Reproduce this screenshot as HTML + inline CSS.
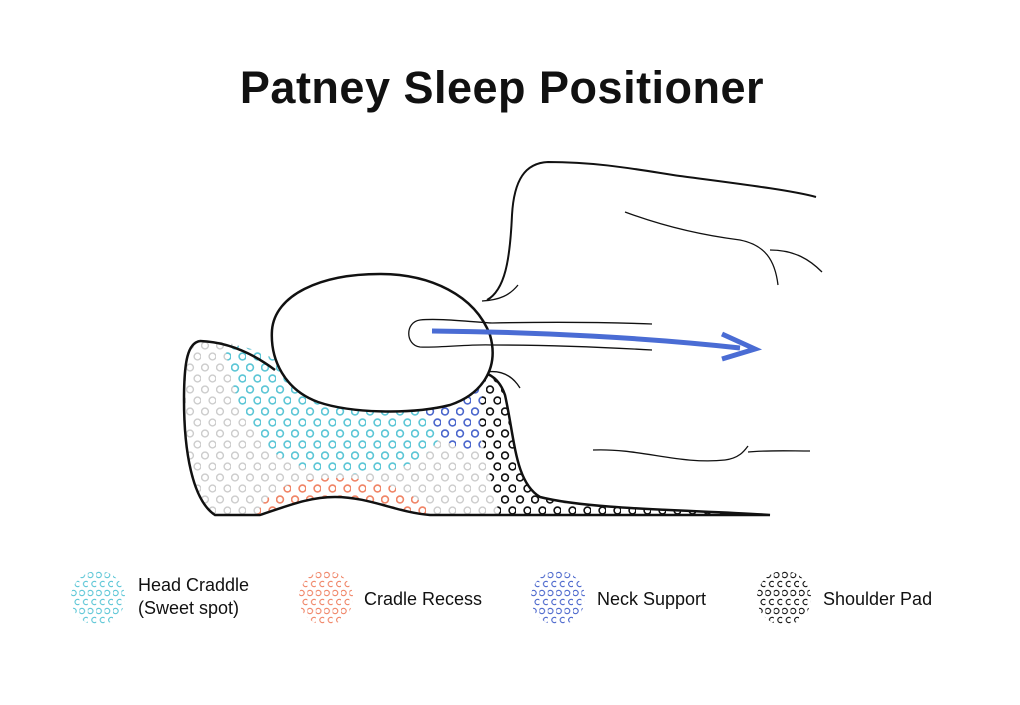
<!DOCTYPE html>
<html><head><style>
html,body{margin:0;padding:0;background:#fff;}
body{width:1020px;height:700px;overflow:hidden;font-family:"Liberation Sans",sans-serif;}
</style></head><body>
<svg width="1020" height="700" viewBox="0 0 1020 700" xmlns="http://www.w3.org/2000/svg">
<defs>
<pattern id="pg" width="15" height="22" patternUnits="userSpaceOnUse" x="186" y="340">
<circle cx="4" cy="5.5" r="3.4" fill="none" stroke="#cccccc" stroke-width="1.4"/>
<circle cx="11.5" cy="16.5" r="3.4" fill="none" stroke="#cccccc" stroke-width="1.4"/>
</pattern>
<pattern id="pc" width="15" height="22" patternUnits="userSpaceOnUse" x="186" y="340">
<rect width="15" height="22" fill="#fff"/>
<circle cx="4" cy="5.5" r="3.4" fill="none" stroke="#5cc6d6" stroke-width="1.6"/>
<circle cx="11.5" cy="16.5" r="3.4" fill="none" stroke="#5cc6d6" stroke-width="1.6"/>
</pattern>
<pattern id="po" width="15" height="22" patternUnits="userSpaceOnUse" x="186" y="340">
<rect width="15" height="22" fill="#fff"/>
<circle cx="4" cy="5.5" r="3.4" fill="none" stroke="#f08466" stroke-width="1.6"/>
<circle cx="11.5" cy="16.5" r="3.4" fill="none" stroke="#f08466" stroke-width="1.6"/>
</pattern>
<pattern id="pb" width="15" height="22" patternUnits="userSpaceOnUse" x="186" y="340">
<rect width="15" height="22" fill="#fff"/>
<circle cx="4" cy="5.5" r="3.4" fill="none" stroke="#4a66cc" stroke-width="1.6"/>
<circle cx="11.5" cy="16.5" r="3.4" fill="none" stroke="#4a66cc" stroke-width="1.6"/>
</pattern>
<pattern id="pk" width="15" height="22" patternUnits="userSpaceOnUse" x="186" y="340">
<rect width="15" height="22" fill="#fff"/>
<circle cx="4" cy="5.5" r="3.4" fill="none" stroke="#111" stroke-width="1.6"/>
<circle cx="11.5" cy="16.5" r="3.4" fill="none" stroke="#111" stroke-width="1.6"/>
</pattern>
<pattern id="lc" width="8.4" height="18" patternUnits="userSpaceOnUse" x="71" y="571"><circle cx="2.5" cy="4" r="2.7" fill="none" stroke="#5cc6d6" stroke-width="1.1"/><circle cx="6.7" cy="13" r="2.7" fill="none" stroke="#5cc6d6" stroke-width="1.1"/></pattern>
<pattern id="lo" width="8.4" height="18" patternUnits="userSpaceOnUse" x="299" y="571"><circle cx="2.5" cy="4" r="2.7" fill="none" stroke="#f08466" stroke-width="1.1"/><circle cx="6.7" cy="13" r="2.7" fill="none" stroke="#f08466" stroke-width="1.1"/></pattern>
<pattern id="lb" width="8.4" height="18" patternUnits="userSpaceOnUse" x="531" y="571"><circle cx="2.5" cy="4" r="2.7" fill="none" stroke="#4a66cc" stroke-width="1.1"/><circle cx="6.7" cy="13" r="2.7" fill="none" stroke="#4a66cc" stroke-width="1.1"/></pattern>
<pattern id="lk" width="8.4" height="18" patternUnits="userSpaceOnUse" x="757" y="571"><circle cx="2.5" cy="4" r="2.7" fill="none" stroke="#111" stroke-width="1.1"/><circle cx="6.7" cy="13" r="2.7" fill="none" stroke="#111" stroke-width="1.1"/></pattern>
<clipPath id="pillow">
<path d="M200,341 C188,343 184,360 184,400 C184,450 192,500 215,515 L260,515 C290,505 310,497 335,497 C370,497 395,512 430,515 L770,515 C700,510 590,510 540,497 C515,482 515,440 505,395 C500,380 490,373 480,372 L300,372 C270,355 240,340 200,341 Z"/>
</clipPath>
</defs>

<text x="502" y="103" text-anchor="middle" font-size="45" font-weight="bold" fill="#111" font-family="Liberation Sans, sans-serif" letter-spacing="0.5">Patney Sleep Positioner</text>

<g clip-path="url(#pillow)">
<rect x="180" y="330" width="600" height="190" fill="url(#pg)"/>
<path d="M225,345 C270,345 300,380 330,400 L440,395 C455,420 440,460 390,470 C340,480 290,470 265,445 C240,420 230,380 225,345 Z" fill="url(#pc)"/>
<path d="M255,520 C265,485 300,478 340,478 C380,478 415,490 440,520 Z" fill="url(#po)"/>
<path d="M420,400 C440,385 470,375 490,372 L480,450 C460,452 440,440 430,425 Z" fill="url(#pb)"/>
<path d="M488,370 L520,370 L560,505 L780,505 L780,520 L500,520 C495,490 478,440 480,410 C482,390 486,380 488,370 Z" fill="url(#pk)"/>
</g>
<path d="M200,341 C188,343 184,360 184,400 C184,450 192,500 215,515 L260,515 C290,505 310,497 335,497 C370,497 395,512 430,515 L770,515 C700,510 590,510 540,497 C515,482 515,440 505,395 C500,380 490,373 480,372" fill="none" stroke="#111" stroke-width="2.5"/>
<path d="M200,341 C230,342 255,355 275,370" fill="none" stroke="#111" stroke-width="2.5"/>

<path d="M487,300 C505,290 510,260 512,215 C514,180 525,163 548,162 C600,162 640,170 680,176 C740,184 790,190 816,197" fill="none" stroke="#111" stroke-width="2"/>
<path d="M482,301 C500,300 510,295 518,285" fill="none" stroke="#111" stroke-width="1.3"/>
<path d="M486,372 C500,370 512,375 520,388" fill="none" stroke="#111" stroke-width="1.3"/>
<path d="M625,212 C660,225 700,235 740,240 C765,245 775,260 778,285" fill="none" stroke="#111" stroke-width="1.3"/>
<path d="M770,250 C795,250 810,260 822,272" fill="none" stroke="#111" stroke-width="1.3"/>
<path d="M593,450 C640,448 680,465 725,460 C740,458 745,450 748,446 M748,452 C770,450 790,451 810,451" fill="none" stroke="#111" stroke-width="1.3"/>

<path d="M380,274 C430,274 475,295 490,335 C500,370 480,395 450,405 C410,415 350,413 318,402 C285,390 270,360 272,330 C275,295 320,274 380,274 Z" fill="#fff" stroke="#111" stroke-width="2.5"/>
<path d="M492,323 C540,322 600,322 652,324 M492,345 C550,345 600,347 652,350 M492,323 C470,322 440,318 420,320 C405,322 405,345 420,347 C440,348 470,344 492,345" fill="none" stroke="#111" stroke-width="1.3"/>
<path d="M432,331 C540,332 650,338 740,348" fill="none" stroke="#4a6cd4" stroke-width="5"/>
<path d="M722,334 L755,349 L722,359" fill="none" stroke="#4a6cd4" stroke-width="5"/>

<circle cx="98" cy="598" r="27" fill="url(#lc)"/>
<circle cx="326" cy="598" r="27" fill="url(#lo)"/>
<circle cx="558" cy="598" r="27" fill="url(#lb)"/>
<circle cx="784" cy="598" r="27" fill="url(#lk)"/>
<g font-size="18" fill="#111" font-family="Liberation Sans, sans-serif">
<text x="138" y="591">Head Craddle</text>
<text x="138" y="614">(Sweet spot)</text>
<text x="364" y="605">Cradle Recess</text>
<text x="597" y="605">Neck Support</text>
<text x="823" y="605">Shoulder Pad</text>
</g>
</svg>
</body></html>
